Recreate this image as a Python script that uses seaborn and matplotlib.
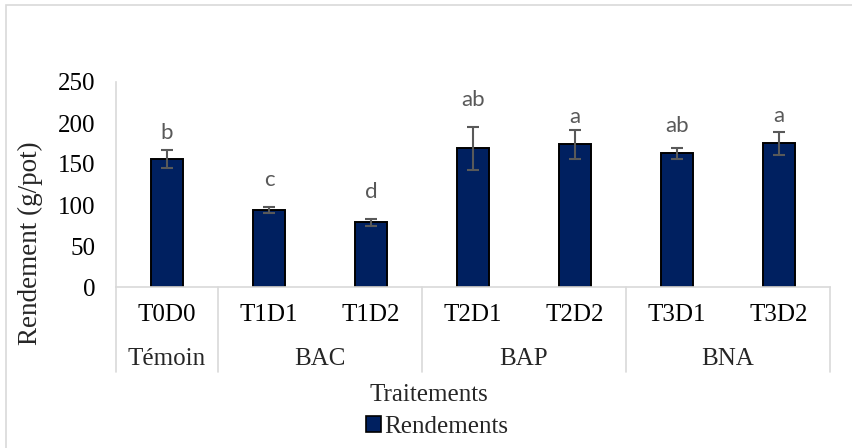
import matplotlib
matplotlib.use("Agg")
import matplotlib.pyplot as plt
import matplotlib.transforms as mtransforms
from matplotlib.patches import Rectangle
import pandas as pd
import seaborn as sns

# Yield per pot for each treatment, with standard deviation and group letters
traitements = ["T0D0", "T1D1", "T1D2", "T2D1", "T2D2", "T3D1", "T3D2"]
groupes = ["Témoin", "BAC", "BAP", "BNA"]
groupe_taille = [1, 2, 2, 2]
rendements = [156, 94, 79, 169, 174, 163, 175]
ecarts = [11, 3.5, 4, 26, 17.5, 6.5, 14]
lettres = ["b", "c", "d", "ab", "a", "ab", "a"]
# vertical gap (points) between each error bar cap and its letter
lettre_pad = [5, 12, 12, 12, 2, 9, 4]

df = pd.DataFrame({"Traitement": traitements, "Rendement": rendements})

sns.set_theme(style="white")
plt.rcParams["font.family"] = ["Liberation Serif", "DejaVu Serif"]

W, H = 853, 448
fig = plt.figure(figsize=(W / 100, H / 100), dpi=100)
ax = fig.add_axes([116 / W, 1 - 287 / H, (830 - 116) / W, (287 - 82) / H])

bleu = "#002060"
gris_axe = "#d9d9d9"
gris_err = "#595959"
fs = 18

sns.barplot(data=df, x="Traitement", y="Rendement", color=bleu, saturation=1,
            edgecolor="black", linewidth=1.4, width=0.32, errorbar=None, ax=ax)

xs = range(len(traitements))
ax.errorbar(xs, rendements, yerr=ecarts, fmt="none", ecolor=gris_err,
            elinewidth=1.5, capsize=4, capthick=1.5, zorder=4)

for x, v, e, lab, pad in zip(xs, rendements, ecarts, lettres, lettre_pad):
    ax.annotate(lab, (x, v + e), xytext=(0, pad), textcoords="offset points",
                ha="center", va="bottom", fontsize=16, color="#595959",
                family=["Lato", "DejaVu Sans"])

ax.set_ylim(0, 250)
ax.set_yticks(range(0, 251, 50))
ax.set_xlim(-0.5, len(traitements) - 0.5)
ax.set_xlabel("")
ax.set_ylabel("")
ax.tick_params(axis="both", length=0, labelsize=fs, colors="black")
ax.tick_params(axis="y", pad=15)
ax.tick_params(axis="x", pad=12)

for s in ["top", "right"]:
    ax.spines[s].set_visible(False)
for s in ["left", "bottom"]:
    ax.spines[s].set_color(gris_axe)
    ax.spines[s].set_linewidth(1.2)

# Category-group separators and group labels below the axis
trans = mtransforms.blended_transform_factory(ax.transData, ax.transAxes)
y_bas = -(372 - 287) / (287 - 82)
y_grp = -(359 - 287) / (287 - 82)
bord = -0.5
for nom, n in zip(groupes, groupe_taille):
    ax.plot([bord, bord], [0, y_bas], transform=trans, color=gris_axe,
            lw=1.2, clip_on=False)
    ax.text(bord + n / 2, y_grp, nom, transform=trans, ha="center",
            va="center", fontsize=fs)
    bord += n
ax.plot([bord, bord], [0, y_bas], transform=trans, color=gris_axe,
        lw=1.2, clip_on=False)

fig.text(30 / W, 1 - 243 / H, "Rendement (g/pot)", rotation=90,
         ha="center", va="center", fontsize=19.5)
fig.text(429 / W, 1 - 395 / H, "Traitements", ha="center", va="center",
         fontsize=fs)

handle = Rectangle((0, 0), 1, 1, facecolor=bleu, edgecolor="black", lw=1.2)
fig.legend([handle], ["Rendements"], loc="center",
           bbox_to_anchor=(437 / W, 1 - 427 / H), frameon=False,
           fontsize=fs, handlelength=0.6, handleheight=0.6,
           handletextpad=0.12, borderpad=0, borderaxespad=0)

# Chart-area frame
fig.patches.append(Rectangle((6 / W, -0.2), 1.2, 1.2 - 5 / H,
                             transform=fig.transFigure, fill=False,
                             edgecolor=gris_axe, lw=1.2))

fig.savefig("out.png", dpi=100)
